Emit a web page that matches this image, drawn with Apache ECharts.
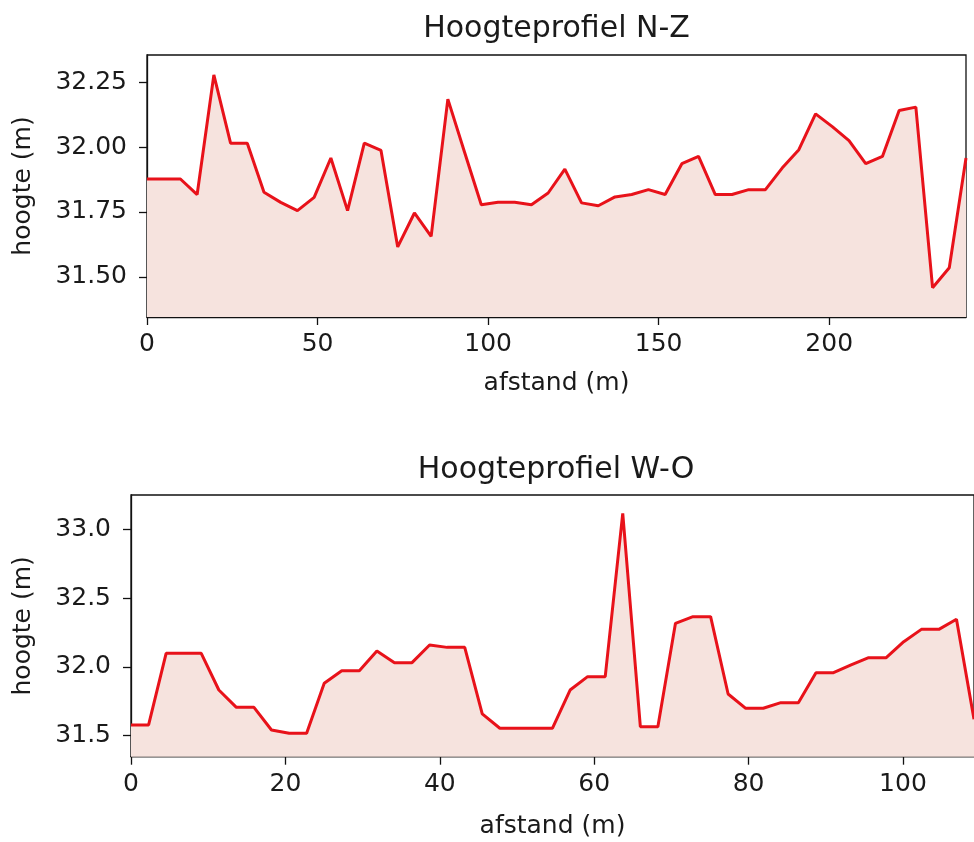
<!DOCTYPE html>
<html>
<head>
<meta charset="utf-8">
<script src="https://cdn.jsdelivr.net/npm/echarts@6/dist/echarts.min.js"></script>
<style>
  html, body { margin: 0; padding: 0; background: #ffffff; }
  #chart { width: 974px; height: 842px; }
</style>
</head>
<body>
<div id="chart"></div>
<script>
// ---- Data: Hoogteprofiel N-Z ----
const distNZ = [0, 4.9, 9.8, 14.7, 19.6, 24.5, 29.4, 34.3, 39.2, 44.1, 49, 53.9, 58.8, 63.7, 68.6, 73.5, 78.4, 83.3, 88.2, 93.1,
  98, 102.9, 107.8, 112.7, 117.6, 122.5, 127.4, 132.3, 137.2, 142.1, 147, 151.9, 156.8, 161.7, 166.6, 171.5, 176.4, 181.3,
  186.2, 191.1, 196, 200.9, 205.8, 210.7, 215.6, 220.5, 225.4, 230.3, 235.2, 240.1];
const heightNZ = [31.877, 31.877, 31.877, 31.817, 32.278, 32.015, 32.015, 31.826, 31.787, 31.755, 31.806, 31.958, 31.755,
  32.015, 31.987, 31.615, 31.746, 31.656, 32.185, 31.98, 31.778, 31.787, 31.787, 31.778, 31.823, 31.915, 31.785, 31.774,
  31.808, 31.817, 31.836, 31.817, 31.936, 31.964, 31.817, 31.817, 31.836, 31.836, 31.919, 31.99, 32.128, 32.079, 32.025,
  31.936, 31.964, 32.141, 32.154, 31.458, 31.535, 31.958];

// ---- Data: Hoogteprofiel W-O ----
const distWO = [0, 2.28, 4.55, 6.83, 9.1, 11.38, 13.65, 15.93, 18.2, 20.48, 22.75, 25.03, 27.3, 29.58, 31.85, 34.13, 36.4,
  38.68, 40.95, 43.23, 45.5, 47.78, 50.05, 52.33, 54.6, 56.88, 59.15, 61.43, 63.7, 65.98, 68.25, 70.53, 72.8, 75.08, 77.35,
  79.63, 81.9, 84.18, 86.45, 88.73, 91, 93.28, 95.55, 97.83, 100.1, 102.38, 104.65, 106.93, 109.2];
const heightWO = [31.578, 31.578, 32.099, 32.099, 32.099, 31.832, 31.706, 31.706, 31.541, 31.517, 31.517, 31.881, 31.972,
  31.972, 32.116, 32.031, 32.031, 32.159, 32.142, 32.142, 31.658, 31.554, 31.554, 31.554, 31.554, 31.832, 31.929, 31.929,
  33.116, 31.565, 31.565, 32.317, 32.365, 32.365, 31.803, 31.699, 31.699, 31.740, 31.740, 31.958, 31.958, 32.014, 32.067,
  32.067, 32.183, 32.273, 32.273, 32.346, 31.62];

// ---- Tick labels ----
const xTicksNZ = [0, 50, 100, 150, 200];
const yTicksNZ = [31.50, 31.75, 32.00, 32.25];
const xTicksWO = [0, 20, 40, 60, 80, 100];
const yTicksWO = [31.5, 32.0, 32.5, 33.0];

const titles = ['Hoogteprofiel N-Z', 'Hoogteprofiel W-O'];
const xName = 'afstand (m)';
const yName = 'hoogte (m)';

const FONT = 'DejaVu Sans';
const TXT = '#1a1a1a';
const LINE = '#e8121a';
const FILL = '#f6e3de';

function pairs(xs, ys) { return xs.map((x, i) => [x, ys[i]]); }

function xAxisCfg(gridIndex, max, ticks, gap) {
  return {
    type: 'value', gridIndex, min: 0, max,
    name: xName, nameLocation: 'middle', nameGap: gap,
    nameTextStyle: { fontFamily: FONT, fontSize: 25, color: TXT },
    axisLine: { show: true, onZero: false, lineStyle: { color: '#111', width: 1.3 } },
    axisTick: { show: true, length: 8, customValues: ticks, lineStyle: { color: '#111', width: 1.3 } },
    axisLabel: { customValues: ticks, margin: 15, fontFamily: FONT, fontSize: 25, color: TXT },
    splitLine: { show: false }
  };
}
function yAxisCfg(gridIndex, min, max, ticks, dec, gap) {
  return {
    type: 'value', gridIndex, min, max,
    name: yName, nameLocation: 'middle', nameGap: gap,
    nameTextStyle: { fontFamily: FONT, fontSize: 25, color: TXT },
    axisLine: { show: true, onZero: false, lineStyle: { color: '#111', width: 1.3 } },
    axisTick: { show: true, length: 8, customValues: ticks, lineStyle: { color: '#111', width: 1.3 } },
    axisLabel: { customValues: ticks, margin: 20, fontFamily: FONT, fontSize: 25, color: TXT,
      formatter: v => Number(v).toFixed(dec) },
    splitLine: { show: false }
  };
}

const chart = echarts.init(document.getElementById('chart'), null, { renderer: 'canvas' });
chart.setOption({
  backgroundColor: '#ffffff',
  animation: false,
  title: [
    { text: titles[0], left: 556.5, top: 14, textAlign: 'center', padding: 0,
      textStyle: { fontFamily: FONT, fontSize: 30, fontWeight: 'normal', color: TXT } },
    { text: titles[1], left: 556, top: 455, textAlign: 'center', padding: 0,
      textStyle: { fontFamily: FONT, fontSize: 30, fontWeight: 'normal', color: TXT } }
  ],
  grid: [
    { left: 147, top: 55, right: 8, height: 262, show: true, borderColor: '#111', borderWidth: 1.3, backgroundColor: 'transparent' },
    { left: 131, top: 495, right: -3.3, height: 261.7, show: true, borderColor: '#111', borderWidth: 1.3, backgroundColor: 'transparent' }
  ],
  xAxis: [
    xAxisCfg(0, 240.1, xTicksNZ, 54),
    xAxisCfg(1, 109.2, xTicksWO, 57)
  ],
  yAxis: [
    yAxisCfg(0, 31.345, 32.355, yTicksNZ, 2, 111),
    yAxisCfg(1, 31.347, 33.25, yTicksWO, 1, 95)
  ],
  series: [
    { type: 'line', xAxisIndex: 0, yAxisIndex: 0, data: pairs(distNZ, heightNZ), showSymbol: false,
      lineStyle: { color: LINE, width: 3 }, areaStyle: { color: FILL, opacity: 1, origin: 'start' } },
    { type: 'line', xAxisIndex: 1, yAxisIndex: 1, data: pairs(distWO, heightWO), showSymbol: false,
      lineStyle: { color: LINE, width: 3 }, areaStyle: { color: FILL, opacity: 1, origin: 'start' } }
  ]
});
</script>
</body>
</html>
